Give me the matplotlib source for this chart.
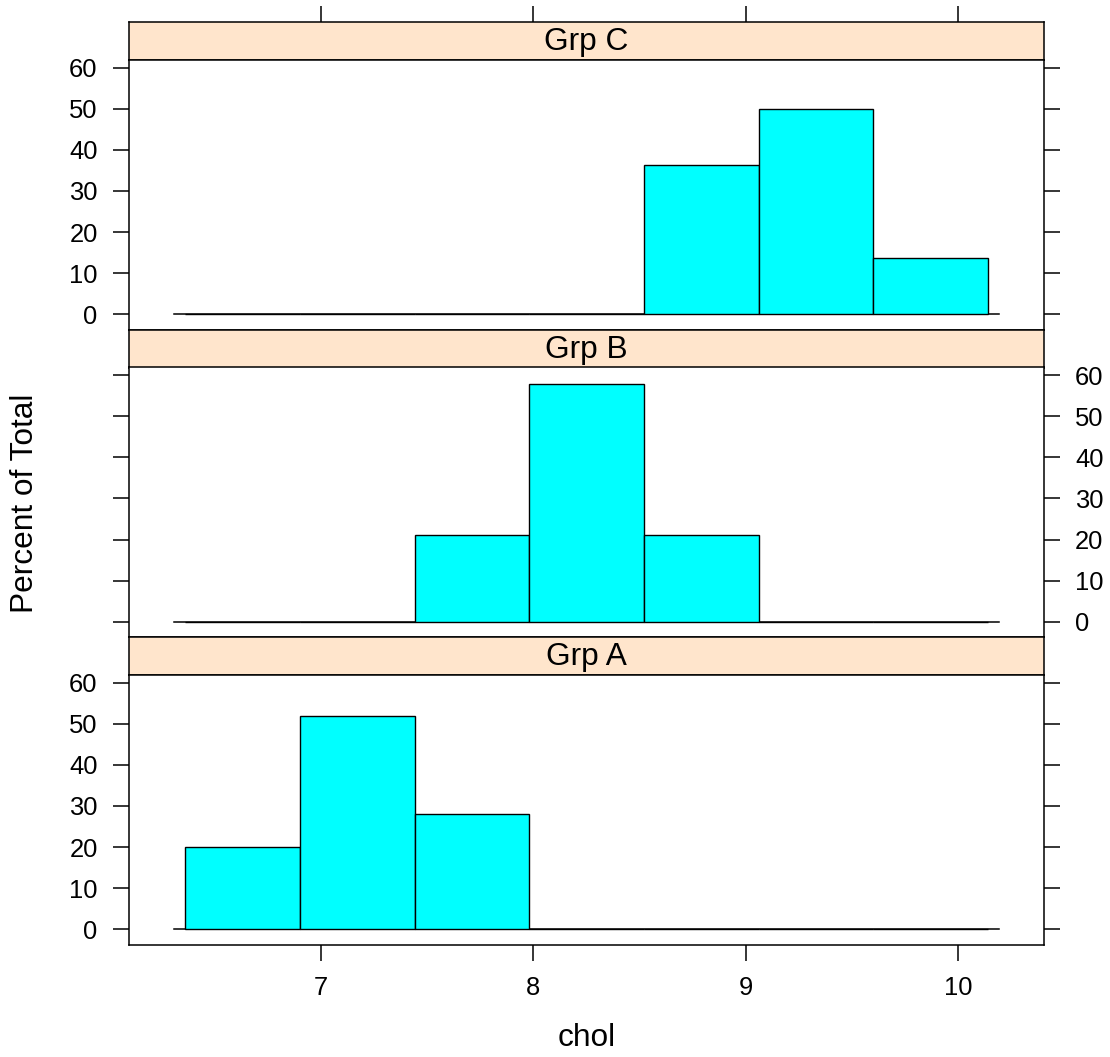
import matplotlib
matplotlib.use("Agg")
import matplotlib.pyplot as plt
import numpy as np

plt.rcParams['font.family'] = ['Liberation Sans', 'DejaVu Sans']

# --- data ---
groups = ["Grp C", "Grp B", "Grp A"]          # top to bottom
breaks = [6.36, 6.90, 7.44, 7.98, 8.52, 9.06, 9.60, 10.14]
pct_c = [0, 0, 0, 0, 36.4, 50.0, 13.6]
pct_b = [0, 0, 21.05, 57.9, 21.05, 0, 0]
pct_a = [20.0, 52.0, 28.0, 0, 0, 0, 0]
baseline_span = [6.31, 10.19]
x_ticks = [7, 8, 9, 10]
y_ticks = [0, 10, 20, 30, 40, 50, 60]

strip_color = '#FFE5CC'
bar_color = '#00FFFF'
label_fs = 22.8   # strip text, axis titles
tick_fs = 18.4    # tick labels (0.8 of the rest)

W, H = 1110, 1057
fig = plt.figure(figsize=(W / 100, H / 100), dpi=100)

left_px, right_px = 129, 1044
top_px = 22
strip_h, panel_h = 38, 269.5
xlim = (6.096, 10.403)
ylim = (-3.73, 61.88)

def fx(px):
    return px / W

def fy(px):
    return 1 - px / H

values = [pct_c, pct_b, pct_a]
lefts = np.array(breaks[:-1])
widths = np.diff(breaks)

for i, (name, vals) in enumerate(zip(groups, values)):
    y0 = top_px + i * (strip_h + panel_h)
    # strip
    sax = fig.add_axes([fx(left_px), fy(y0 + strip_h), fx(right_px - left_px), strip_h / H])
    sax.set_facecolor(strip_color)
    sax.set_xlim(xlim)
    sax.set_ylim(0, 1)
    sax.text(0.5, 0.47, name, transform=sax.transAxes, ha='center', va='center', fontsize=label_fs)
    for s in sax.spines.values():
        s.set_linewidth(1.1)
    sax.set_yticks([])
    if i == 0:
        sax.set_xticks(x_ticks)
        sax.tick_params(axis='x', top=True, bottom=False, labeltop=False, labelbottom=False,
                        direction='out', length=11.5, width=1.1)
    else:
        sax.set_xticks([])

    # panel
    ax = fig.add_axes([fx(left_px), fy(y0 + strip_h + panel_h), fx(right_px - left_px), panel_h / H])
    ax.plot(baseline_span, [0, 0], color='black', lw=1.1, zorder=1)
    ax.bar(lefts, vals, width=widths, align='edge', color=bar_color,
           edgecolor='black', linewidth=1.0, zorder=2)
    ax.set_xlim(xlim)
    ax.set_ylim(ylim)
    for s in ax.spines.values():
        s.set_linewidth(1.1)
    ax.set_yticks(y_ticks)
    if i == 1:
        ax.tick_params(axis='y', left=True, right=True, labelleft=False, labelright=True)
    else:
        ax.tick_params(axis='y', left=True, right=True, labelleft=True, labelright=False)
    ax.tick_params(axis='y', direction='out', length=11.5, width=1.1, pad=11, labelsize=tick_fs)
    if i == 2:
        ax.set_xticks(x_ticks)
        ax.tick_params(axis='x', direction='out', length=11.5, width=1.1, pad=11, labelsize=tick_fs)
    else:
        ax.set_xticks([])

fig.text(fx(586.5), fy(1038), "chol", ha='center', va='center', fontsize=label_fs)
fig.text(fx(25), fy(503), "Percent of Total", ha='center', va='center', rotation=90, fontsize=label_fs)

fig.savefig("out.png", dpi=100)
